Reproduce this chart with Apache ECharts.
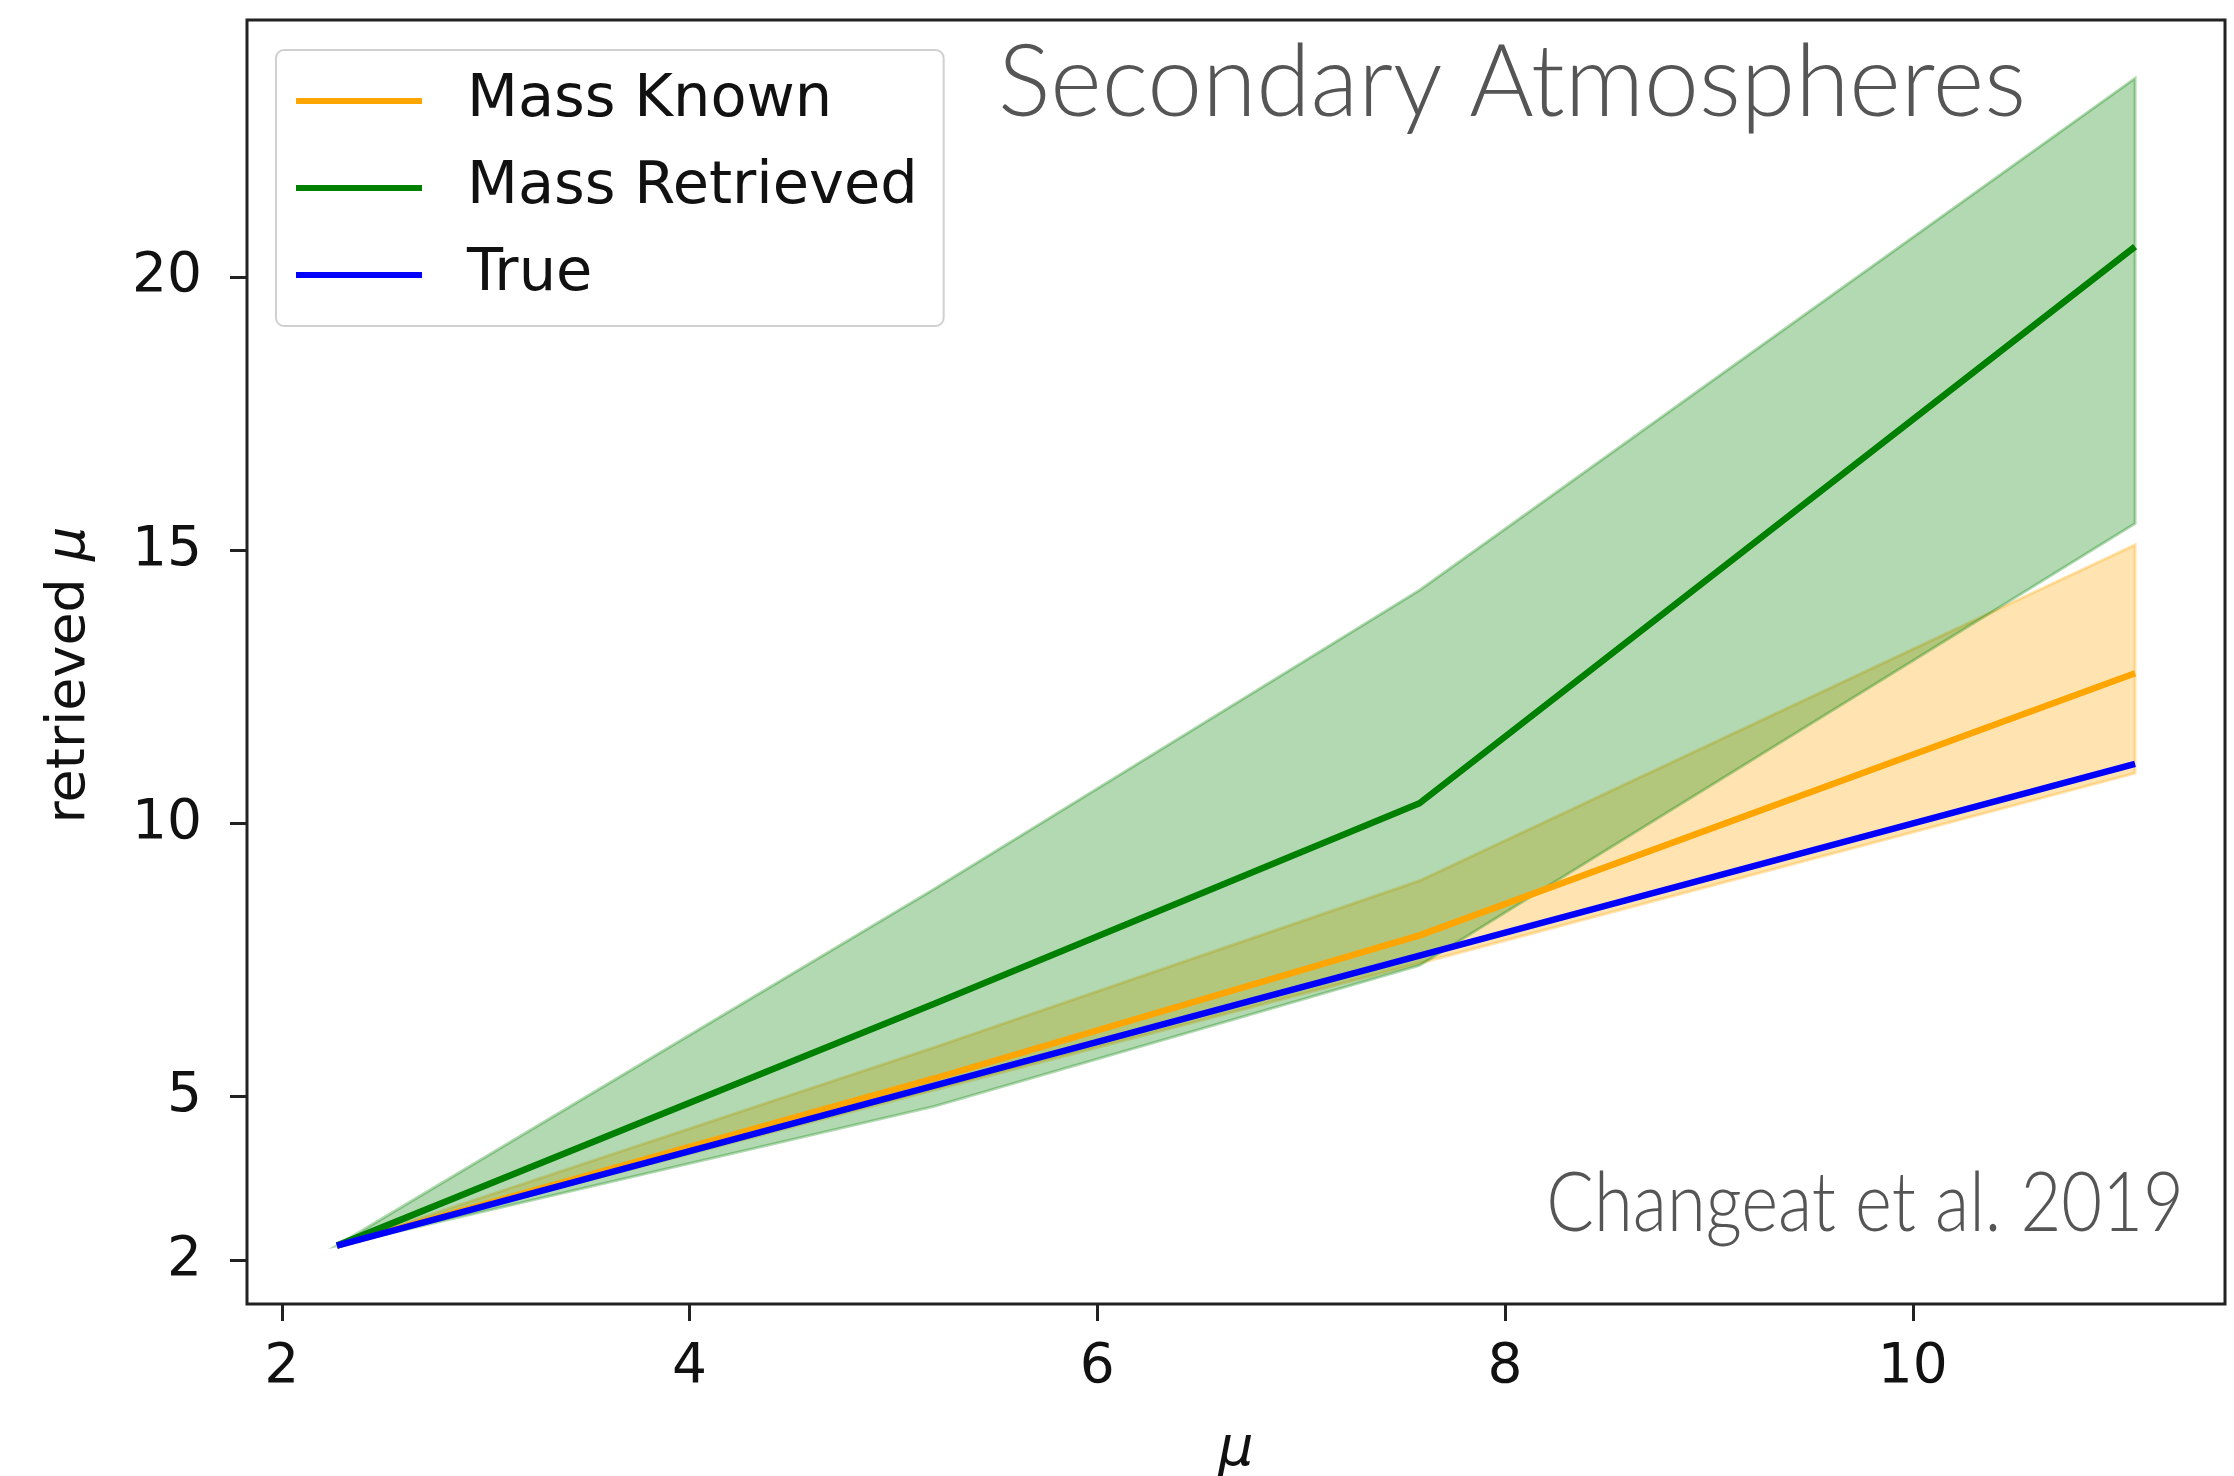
<!DOCTYPE html>
<html>
<head>
<meta charset="utf-8">
<script src="https://cdn.jsdelivr.net/npm/echarts@6/dist/echarts.min.js"></script>
<style>
  html, body { margin: 0; padding: 0; background: #ffffff; }
  #chart { width: 2234px; height: 1476px; }
</style>
</head>
<body>
<div id="chart"></div>
<script>
// Input mean molecular weight (true value) for each simulated atmosphere
const muTrue = [2.27, 5.2, 7.58, 11.09];

// Retrieved mu when the planet mass is known: median and 1-sigma bounds
const knownMean = [2.27, 5.33, 7.95, 12.75];
const knownLow  = [2.27, 5.12, 7.44, 10.92];
const knownHigh = [2.27, 5.9, 8.95, 15.10];

// Retrieved mu when the planet mass is retrieved too: median and 1-sigma bounds
const retrievedMean = [2.27, 6.7, 10.37, 20.56];
const retrievedLow  = [2.27, 4.82, 7.40, 15.49];
const retrievedHigh = [2.27, 8.8, 14.27, 23.64];

// Tick labels
const xTicks = [2, 4, 6, 8, 10];
const yTicks = [2, 5, 10, 15, 20];

const ORANGE = '#FFA500';
const GREEN = '#008000';
const BLUE = '#0000FF';

// 5% padding around the data range on both axes
function paddedRange(values) {
  const lo = Math.min.apply(null, values);
  const hi = Math.max.apply(null, values);
  const pad = (hi - lo) * 0.05;
  return [lo - pad, hi + pad];
}
const xRange = paddedRange(muTrue);
const yRange = paddedRange([].concat(muTrue, knownLow, knownHigh, retrievedLow, retrievedHigh));

function pairs(xs, ys) {
  return xs.map(function (x, i) { return [x, ys[i]]; });
}

// Shaded band between a lower and an upper curve, drawn as one polygon
function band(lower, upper, fill, z) {
  return {
    type: 'custom',
    silent: true,
    z: z,
    clip: true,
    data: [[muTrue[0], lower[0]]],
    renderItem: function (params, api) {
      const pts = [];
      for (let i = 0; i < muTrue.length; i++) pts.push(api.coord([muTrue[i], upper[i]]));
      for (let i = muTrue.length - 1; i >= 0; i--) pts.push(api.coord([muTrue[i], lower[i]]));
      return {
        type: 'polygon',
        shape: { points: pts },
        style: { fill: fill, stroke: fill, lineWidth: 3 }
      };
    }
  };
}

function curve(name, ys, color, z) {
  return {
    name: name,
    type: 'line',
    data: pairs(muTrue, ys),
    symbol: 'none',
    z: z,
    lineStyle: { color: color, width: 6.5 },
    itemStyle: { color: color },
    emphasis: { disabled: true }
  };
}

const tickFont = { fontFamily: 'DejaVu Sans', fontSize: 55, color: '#111111' };

const chart = echarts.init(document.getElementById('chart'), null, { renderer: 'canvas' });
chart.setOption({
  animation: false,
  backgroundColor: '#ffffff',
  grid: {
    left: 247, right: 9, top: 20, bottom: 172,
    containLabel: false, outerBoundsMode: 'none',
    show: true, borderColor: '#222222', borderWidth: 3, backgroundColor: 'transparent'
  },
  graphic: [
    {
      type: 'text', x: 2026, y: 34, z: 20, scaleX: 0.985,
      style: {
        text: 'Secondary Atmospheres', fill: '#555555',
        fontFamily: 'Lato', fontWeight: 300, fontSize: 100,
        textAlign: 'right', textVerticalAlign: 'top'
      }
    },
    {
      type: 'text', x: 2184, y: 1164, z: 20, scaleX: 0.86,
      style: {
        text: 'Changeat et al. 2019', fill: '#555555',
        fontFamily: 'Lato', fontWeight: 300, fontSize: 82,
        textAlign: 'right', textVerticalAlign: 'top'
      }
    }
  ],
  legend: {
    data: ['Mass Known', 'Mass Retrieved', 'True'],
    orient: 'vertical',
    left: 276, top: 50,
    padding: [21, 26, 21, 20],
    itemWidth: 126, itemHeight: 6, itemGap: 27,
    icon: 'rect',
    backgroundColor: 'rgba(255,255,255,0.8)',
    borderColor: '#d0d0d0', borderWidth: 2, borderRadius: 8,
    selectedMode: false,
    textStyle: {
      fontFamily: 'DejaVu Sans', fontSize: 59, color: '#111111',
      lineHeight: 60, padding: [0, 0, 0, 40]
    }
  },
  xAxis: {
    type: 'value', min: xRange[0], max: xRange[1],
    axisLine: { show: false },
    splitLine: { show: false },
    axisTick: { show: true, length: 17, lineStyle: { width: 3, color: '#222222' }, customValues: xTicks },
    axisLabel: Object.assign({ customValues: xTicks, margin: 36 }, tickFont),
    name: 'μ', nameLocation: 'middle', nameGap: 119,
    nameTextStyle: { fontFamily: 'DejaVu Sans', fontStyle: 'italic', fontSize: 55, color: '#111111' }
  },
  yAxis: {
    type: 'value', min: yRange[0], max: yRange[1],
    axisLine: { show: false },
    splitLine: { show: false },
    axisTick: { show: true, length: 17, lineStyle: { width: 3, color: '#222222' }, customValues: yTicks },
    axisLabel: Object.assign({ customValues: yTicks, margin: 45 }, tickFont),
    name: '{n|retrieved }{m|μ}', nameLocation: 'middle', nameGap: 150,
    nameTextStyle: {
      padding: [0, 26, 0, 0],
      rich: {
        n: { fontFamily: 'DejaVu Sans', fontSize: 54, color: '#111111' },
        m: { fontFamily: 'DejaVu Sans', fontStyle: 'italic', fontSize: 54, color: '#111111' }
      }
    }
  },
  series: [
    band(knownLow, knownHigh, 'rgba(255,165,0,0.3)', 1),
    band(retrievedLow, retrievedHigh, 'rgba(0,128,0,0.3)', 2),
    curve('Mass Known', knownMean, ORANGE, 5),
    curve('Mass Retrieved', retrievedMean, GREEN, 6),
    curve('True', muTrue, BLUE, 7)
  ]
});
</script>
</body>
</html>
